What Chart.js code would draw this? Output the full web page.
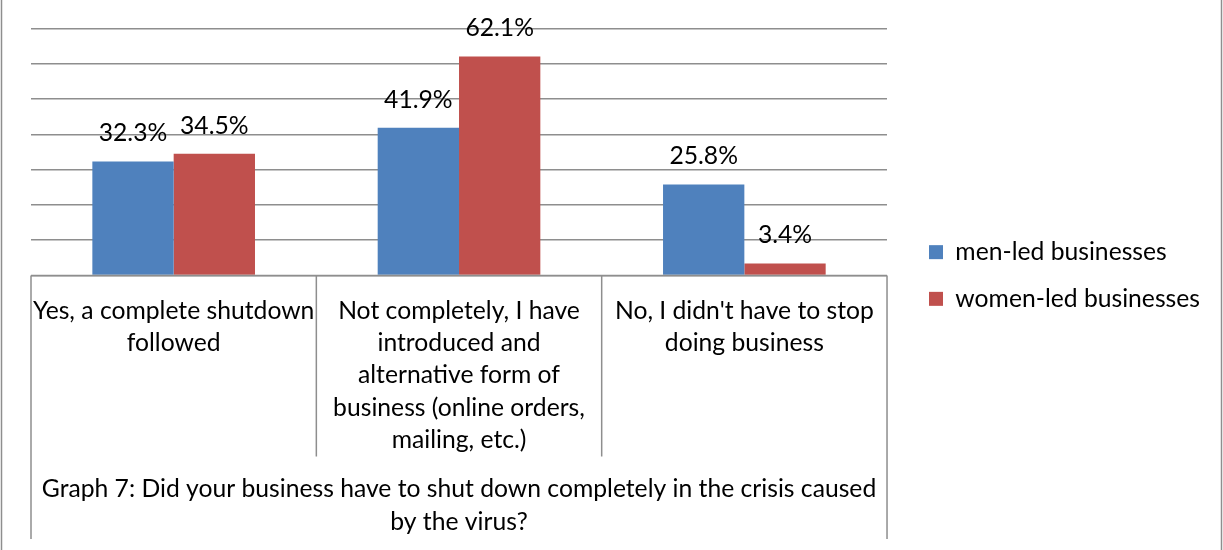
<!DOCTYPE html>
<html>
<head>
<meta charset="utf-8">
<script src="https://cdn.jsdelivr.net/npm/chart.js@4/dist/chart.umd.min.js"></script>
<style>
  html, body { margin: 0; padding: 0; background: #fff; }
  #wrap { width: 1223px; height: 550px; position: relative; }
</style>
</head>
<body>
<div id="wrap"><canvas id="myChart"></canvas></div>
<script>
// answer categories (wrapped the same way as in the table cells)
const categories = [
  ["Yes, a complete shutdown", "followed"],
  ["Not completely, I have", "introduced and", "alternative form of", "business (online orders,", "mailing, etc.)"],
  ["No, I didn't have to stop", "doing business"]
];

// share of respondents, %
const menLed = [32.3, 41.9, 25.8];
const womenLed = [34.5, 62.1, 3.4];

const seriesNames = ["men-led businesses", "women-led businesses"];
const captionLines = [
  "Graph 7: Did your business have to shut down completely in the crisis caused",
  "by the virus?"
];

const FONT = "Lato, 'Liberation Sans', sans-serif";
const FONT_SIZE = 24.7;
const gridGray = "#8e8e8e";

Chart.defaults.font.family = FONT;
Chart.defaults.color = "#000";

// value labels above every bar
const barLabels = {
  id: "barLabels",
  afterDatasetsDraw(chart) {
    const ctx = chart.ctx;
    ctx.save();
    ctx.font = FONT_SIZE + "px " + FONT;
    ctx.fillStyle = "#000";
    ctx.textAlign = "center";
    ctx.textBaseline = "middle";
    chart.data.datasets.forEach((ds, i) => {
      chart.getDatasetMeta(i).data.forEach((bar, j) => {
        ctx.fillText(ds.data[j].toFixed(1) + "%", bar.x, bar.y - 28);
      });
    });
    ctx.restore();
  }
};

// cell borders of the category table under the plot + outer frame
const tableLines = {
  id: "tableLines",
  afterDraw(chart) {
    const ctx = chart.ctx;
    const area = chart.chartArea;
    const xs = chart.scales.x;
    const n = categories.length;
    const step = (area.right - area.left) / n;
    const cellBottom = xs.top + 181;
    const frameBottom = xs.bottom + 1;
    ctx.save();
    ctx.strokeStyle = gridGray;
    ctx.lineWidth = 1.5;
    ctx.beginPath();
    ctx.moveTo(area.left, area.bottom);
    ctx.lineTo(area.right, area.bottom);
    for (let i = 0; i <= n; i++) {
      const x = area.left + i * step;
      const outer = i === 0 || i === n;
      ctx.moveTo(x, area.bottom);
      ctx.lineTo(x, outer ? frameBottom : cellBottom);
    }
    ctx.stroke();
    // page frame
    ctx.beginPath();
    ctx.moveTo(1.5, 0);
    ctx.lineTo(1.5, chart.height);
    ctx.moveTo(chart.width - 1.5, 0);
    ctx.lineTo(chart.width - 1.5, chart.height);
    ctx.stroke();
    ctx.restore();
  }
};

const ctx = document.getElementById("myChart").getContext("2d");
const myChart = new Chart(ctx, {
  type: "bar",
  data: {
    labels: categories,
    datasets: [
      {
        label: seriesNames[0],
        data: menLed,
        backgroundColor: "#4F81BD",
        borderWidth: 0,
        categoryPercentage: 0.57,
        barPercentage: 1
      },
      {
        label: seriesNames[1],
        data: womenLed,
        backgroundColor: "#C0504D",
        borderWidth: 0,
        categoryPercentage: 0.57,
        barPercentage: 1
      }
    ]
  },
  options: {
    responsive: true,
    maintainAspectRatio: false,
    animation: false,
    layout: {
      padding: { left: 31, right: 13, top: 13, bottom: 12 }
    },
    plugins: {
      legend: {
        position: "right",
        maxWidth: 400,
        labels: {
          boxWidth: 14,
          boxHeight: 14,
          padding: 22,
          color: "#000",
          font: { size: FONT_SIZE }
        }
      },
      tooltip: { enabled: false }
    },
    scales: {
      x: {
        grid: { display: false, drawTicks: false },
        border: { display: false },
        ticks: {
          autoSkip: false,
          maxRotation: 0,
          minRotation: 0,
          padding: 19,
          color: "#000",
          font: { size: FONT_SIZE, lineHeight: "32.4px" }
        },
        title: {
          display: true,
          text: captionLines,
          color: "#000",
          font: { size: FONT_SIZE, lineHeight: "32.4px" },
          padding: { top: 0.5, bottom: 0 }
        }
      },
      y: {
        // sits on the right so its (empty) box spaces the legend off the plot
        position: "right",
        min: 0,
        max: 74.4,
        grid: { color: gridGray, lineWidth: 1.5, drawTicks: false },
        border: { display: false },
        ticks: { display: false, stepSize: 10, includeBounds: false },
        afterFit(scale) { scale.width = 20; }
      }
    }
  },
  plugins: [barLabels, tableLines]
});
</script>
</body>
</html>
